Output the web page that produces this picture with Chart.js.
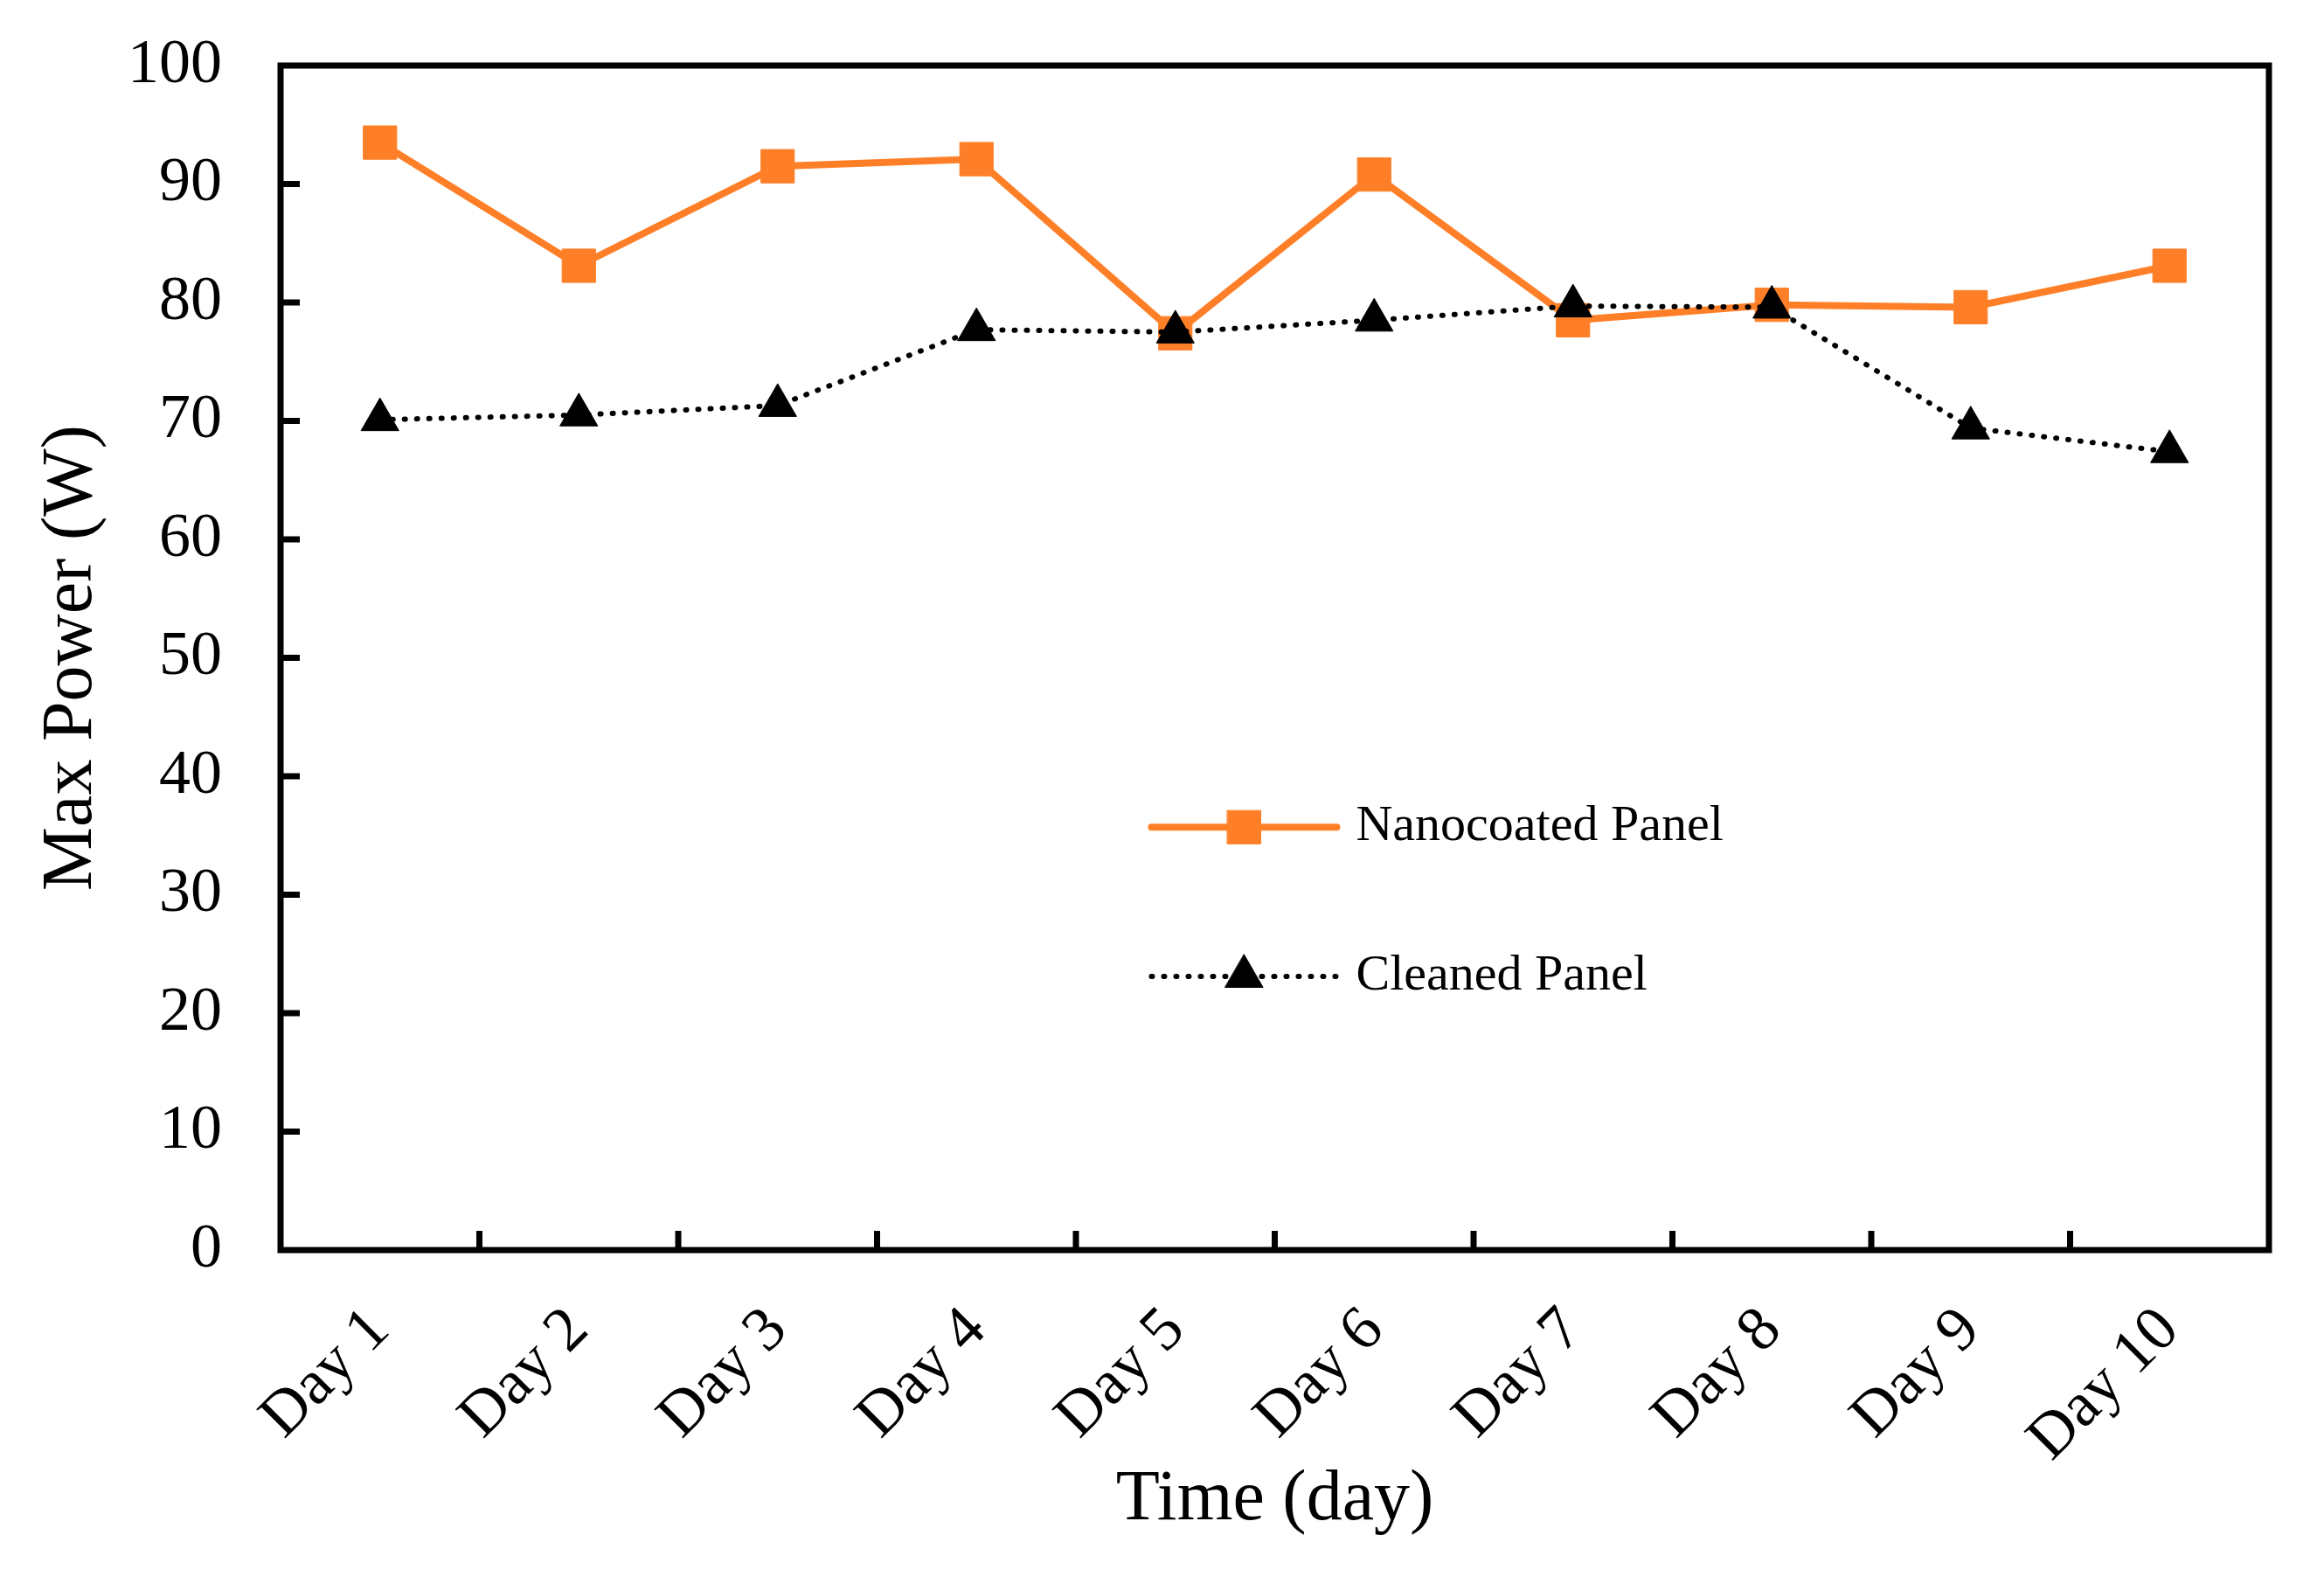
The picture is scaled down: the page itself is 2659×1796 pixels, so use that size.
<!DOCTYPE html>
<html>
<head>
<meta charset="utf-8">
<script src="https://cdn.jsdelivr.net/npm/chart.js@4.4.1/dist/chart.umd.min.js"></script>
<style>
  html, body { margin: 0; padding: 0; background: #fff; }
  #wrap { width: 2659px; height: 1796px; }
</style>
</head>
<body>
<div id="wrap"><canvas id="chart"></canvas></div>
<script>
var days = ["Day 1", "Day 2", "Day 3", "Day 4", "Day 5", "Day 6", "Day 7", "Day 8", "Day 9", "Day 10"];
var nanocoated = [93.5, 83.1, 91.5, 92.1, 77.4, 90.8, 78.5, 79.8, 79.6, 83.1];
var cleaned = [70.1, 70.5, 71.3, 77.7, 77.5, 78.5, 79.7, 79.6, 69.4, 67.4];
var yTicks = [0, 10, 20, 30, 40, 50, 60, 70, 80, 90, 100];

var serif = "'Liberation Serif', 'Times New Roman', serif";
var orange = "#FE7F27";

// box frame + inward tick marks
var frame = {
  id: "frame",
  afterDraw: function (chart) {
    var ctx = chart.ctx, a = chart.chartArea;
    var x = chart.scales.x, y = chart.scales.y;
    ctx.save();
    ctx.strokeStyle = "#000";
    ctx.lineWidth = 7;
    ctx.lineCap = "butt";
    ctx.beginPath();
    yTicks.forEach(function (v) {
      if (v === 0 || v === 100) return;
      var py = y.getPixelForValue(v);
      ctx.moveTo(a.left, py);
      ctx.lineTo(a.left + 22, py);
    });
    for (var i = 1; i < days.length; i++) {
      var px = (x.getPixelForValue(i - 1) + x.getPixelForValue(i)) / 2;
      ctx.moveTo(px, a.bottom);
      ctx.lineTo(px, a.bottom - 22);
    }
    ctx.stroke();
    ctx.lineJoin = "miter";
    ctx.strokeRect(a.left, a.top, a.right - a.left, a.bottom - a.top);
    ctx.restore();
  }
};

// legend inside the plot
var innerLegend = {
  id: "innerLegend",
  afterDraw: function (chart) {
    var ctx = chart.ctx, a = chart.chartArea;
    var w = a.right - a.left, h = a.bottom - a.top;
    var x0 = a.left + w * 0.438, x1 = x0 + 212;
    var rows = [0.643, 0.769];
    ctx.save();
    chart.data.datasets.forEach(function (ds, i) {
      var yy = a.top + h * rows[i];
      ctx.strokeStyle = ds.borderColor;
      ctx.lineWidth = ds.borderWidth;
      ctx.lineCap = "round";
      ctx.setLineDash(ds.borderDash || []);
      ctx.beginPath();
      ctx.moveTo(x0, yy);
      ctx.lineTo(x1, yy);
      ctx.stroke();
      ctx.setLineDash([]);
      ctx.fillStyle = ds.pointBackgroundColor;
      ctx.strokeStyle = ds.pointBorderColor;
      ctx.lineWidth = 1;
      Chart.helpers.drawPoint(ctx, { pointStyle: ds.pointStyle, radius: ds.pointRadius, rotation: 0, borderWidth: 1 }, (x0 + x1) / 2, yy);
      ctx.fillStyle = "#000";
      ctx.font = "58px " + serif;
      ctx.textAlign = "left";
      ctx.textBaseline = "middle";
      ctx.fillText(ds.label, x1 + 22, yy);
    });
    ctx.restore();
  }
};

new Chart(document.getElementById("chart"), {
  type: "line",
  data: {
    labels: days,
    datasets: [
      {
        label: "Nanocoated Panel",
        data: nanocoated,
        borderColor: orange,
        backgroundColor: orange,
        borderWidth: 8,
        pointStyle: "rect",
        pointRadius: 27,
        pointBackgroundColor: orange,
        pointBorderColor: orange,
        pointBorderWidth: 1,
        tension: 0,
        order: 2
      },
      {
        label: "Cleaned Panel",
        data: cleaned,
        borderColor: "#000",
        backgroundColor: "#000",
        borderWidth: 6,
        borderDash: [1, 13],
        borderCapStyle: "round",
        pointStyle: "triangle",
        pointRadius: 25,
        pointBackgroundColor: "#000",
        pointBorderColor: "#000",
        pointBorderWidth: 1,
        tension: 0,
        order: 1
      }
    ]
  },
  options: {
    responsive: true,
    maintainAspectRatio: false,
    devicePixelRatio: 1,
    animation: false,
    layout: { padding: { top: 75, right: 63, left: 0, bottom: 0 } },
    plugins: {
      legend: { display: false },
      tooltip: { enabled: false }
    },
    scales: {
      x: {
        offset: true,
        grid: { display: false, offset: true, drawTicks: false },
        border: { display: false },
        ticks: {
          color: "#000",
          font: { family: serif, size: 72 },
          minRotation: 45,
          maxRotation: 45,
          padding: 50,
          autoSkip: false
        },
        title: {
          display: true,
          text: "Time (day)",
          color: "#000",
          font: { family: serif, size: 82 },
          padding: { top: 0, bottom: 30 }
        },
        afterFit: function (s) { s.height = 366; }
      },
      y: {
        min: 0,
        max: 100,
        grid: { display: false, drawTicks: false },
        border: { display: false },
        afterBuildTicks: function (s) { s.ticks = yTicks.map(function (v) { return { value: v }; }); },
        ticks: {
          color: "#000",
          font: { family: serif, size: 72 },
          padding: 67
        },
        title: {
          display: true,
          text: "Max Power (W)",
          color: "#000",
          font: { family: serif, size: 82 },
          padding: { top: 33, bottom: 0 }
        },
        afterFit: function (s) {
          s.width = 321;
          s.paddingTop = 0;
          s.paddingBottom = 0;
        }
      }
    }
  },
  plugins: [frame, innerLegend]
});
</script>
</body>
</html>
